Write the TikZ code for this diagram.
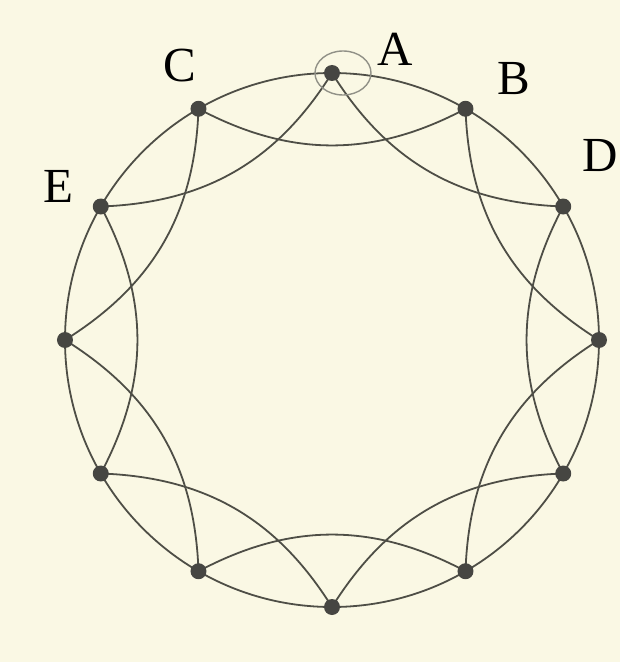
\documentclass[tikz,border=0pt]{standalone}
\usepackage{fontspec}
\setmainfont{Liberation Serif}
\usetikzlibrary{backgrounds}
\definecolor{paper}{RGB}{250,248,228}
\definecolor{ink}{RGB}{78,78,70}
\definecolor{dotc}{RGB}{70,70,66}
\definecolor{loopc}{RGB}{145,145,135}
\begin{document}
\begin{tikzpicture}[x=1pt,y=1pt,
  edge/.style={draw=ink,line width=1.8pt},
  vertex/.style={circle,fill=dotc,inner sep=0pt,minimum size=16pt},
  lab/.style={inner sep=0pt,anchor=base west,font=\fontsize{49}{49}\selectfont}]
\useasboundingbox (-332,-322) rectangle (288,340);
\foreach \k in {0,...,11}{ \node[vertex] (v\k) at (\k*30:267) {}; }
\begin{pgfonlayer}{background}
\fill[paper] (-332,-322) rectangle (288,340);
\draw[edge] (0,0) circle (267);
\foreach \k in {0,...,11}{
  \pgfmathtruncatemacro\j{mod(\k+2,12)}
  \draw[edge] (v\k.center) to[bend left=28] (v\j.center);
}
\end{pgfonlayer}
\draw[loopc,line width=1.4pt] (11,267) ellipse (28 and 22);
\node[lab] (lA) at (45,274) {A};
\node[lab] (lB) at (165,245) {B};
\node[lab] (lC) at (-169,258) {C};
\node[lab] (lD) at (250,168) {D};
\node[lab] (lE) at (-289,138) {E};
\end{tikzpicture}
\end{document}
